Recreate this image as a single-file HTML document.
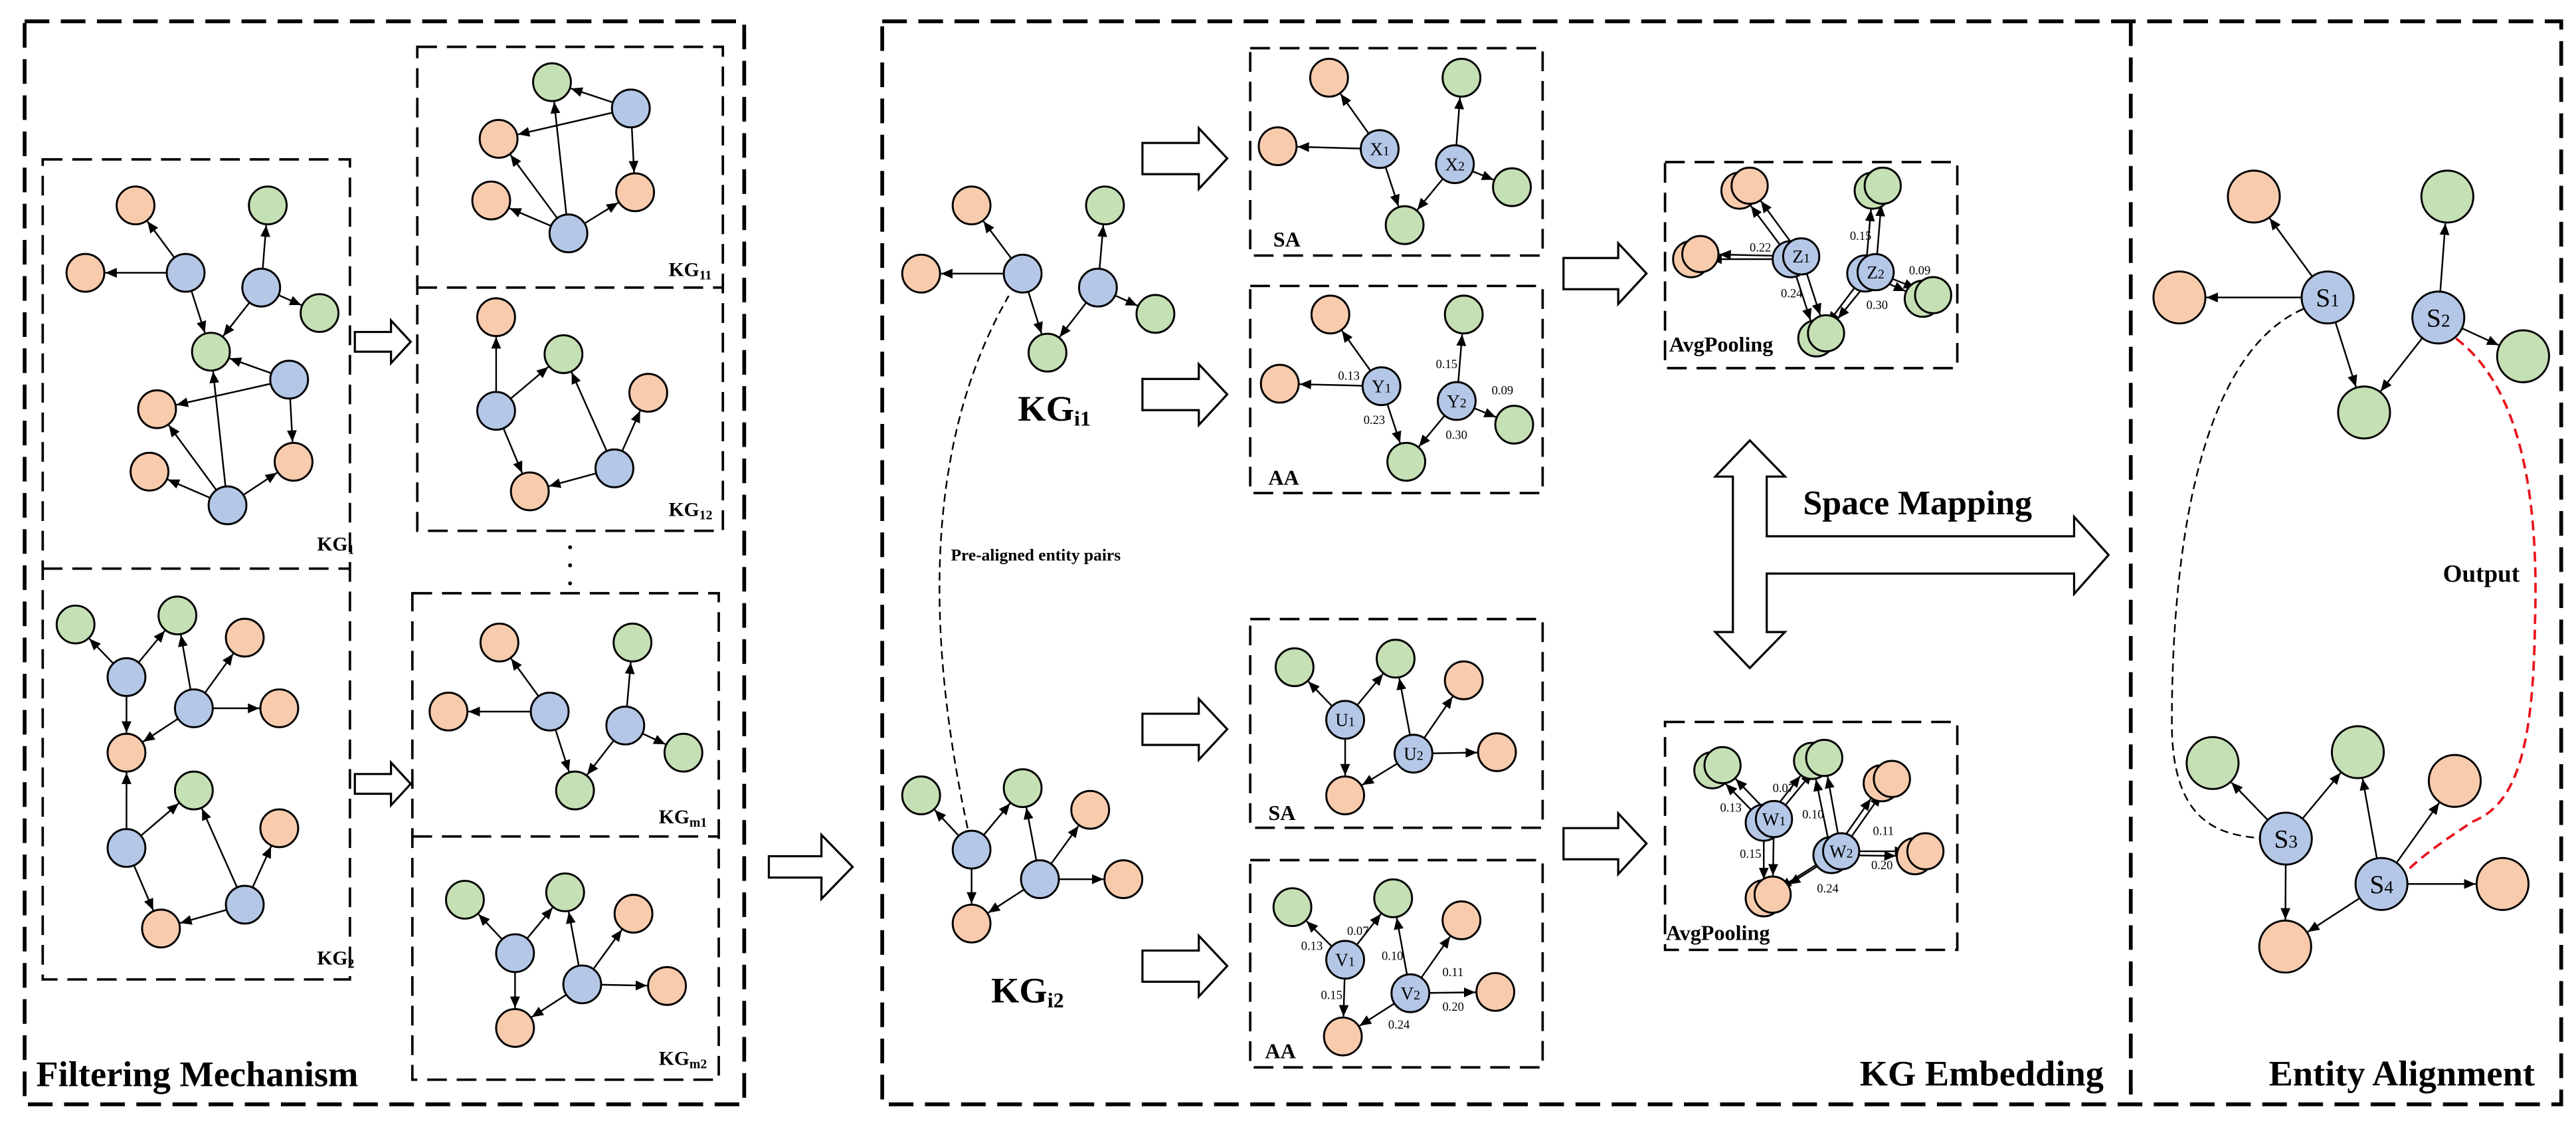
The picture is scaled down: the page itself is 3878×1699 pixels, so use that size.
<!DOCTYPE html>
<html><head><meta charset="utf-8">
<style>
html,body{margin:0;padding:0;background:#fff;}
svg{display:block;}
svg text{font-family:"Liberation Serif","Times New Roman",serif;}
.b{font-weight:bold;}
</style></head>
<body>
<svg id="s" width="3878" height="1699" viewBox="0 0 1568 687" preserveAspectRatio="none" xmlns="http://www.w3.org/2000/svg">
<defs>
<marker id="ah" markerUnits="userSpaceOnUse" markerWidth="7" markerHeight="6" refX="7" refY="3" orient="auto"><path d="M0,0 L7,3 L0,6 z" fill="#000"/></marker>
</defs>
<g fill="none" stroke="#000">
<g stroke-width="2.3" stroke-dasharray="15,7">
<rect x="15" y="13" width="438" height="659"/>
<path d="M537,13 H1559 V672 H537 Z"/>
<path d="M1297,13 V672"/>
</g>
<g stroke-width="1.5" stroke-dasharray="12,6">
<rect x="26" y="97" width="187" height="499"/>
<path d="M26,346 H213"/>
<rect x="254" y="28.5" width="186" height="294.5"/>
<path d="M254,175 H440"/>
<rect x="251" y="361" width="186.5" height="296"/>
<path d="M251,509 H437.5"/>
<rect x="761" y="29.3" width="178" height="126.2"/>
<rect x="761" y="174" width="178" height="126"/>
<rect x="761" y="376.7" width="178" height="127"/>
<rect x="761" y="523.4" width="178" height="126.1"/>
<rect x="1013.5" y="98.6" width="177.9" height="125.4"/>
<rect x="1013.5" y="439.3" width="177.9" height="138.7"/>
</g>
<path d="M589,504 Q545,300 614,180" stroke-width="1" stroke-dasharray="5,3"/>
<path d="M1402,188 C1340,215 1322,330 1322,440 C1322,500 1350,508 1376,510" stroke-width="1" stroke-dasharray="5,3"/>
<path d="M1495,206 C1540,240 1545,320 1543,380 C1542,460 1530,490 1505,500 C1490,510 1475,520 1464,531" stroke="#e8141c" stroke-width="1.5" stroke-dasharray="6,3.5"/>
<g stroke-width="1.3" fill="#fff">
<path d="M216,202 H238 V195 L250,208 L238,221 V214 H216 Z"/>
<path d="M216,471 H238 V464 L250,477 L238,490 V483 H216 Z"/>
<path d="M468,521 H500 V508 L519,527.5 L500,547 V534 H468 Z"/>
<path d="M695.4,87 H729.7 V78 L747,96.4 L729.7,115 V106 H695.4 Z"/>
<path d="M695.4,230.6 H729.7 V221.6 L747,240 L729.7,258.6 V249.6 H695.4 Z"/>
<path d="M695.4,434.3 H729.7 V425.3 L747,443.7 L729.7,462.3 V453.3 H695.4 Z"/>
<path d="M695.4,578.4 H729.7 V569.4 L747,587.8 L729.7,606.4 V597.4 H695.4 Z"/>
<path d="M951.7,157 H985 V148 L1002.2,166.4 L985,185 V176 H951.7 Z"/>
<path d="M951.7,503.9 H985 V494.9 L1002.2,513.3 L985,531.9 V522.9 H951.7 Z"/>
<path d="M1065.1,268 L1086.5,290 L1075.4,290 L1075.4,326.3 L1262.5,326.3 L1262.5,314.5 L1283.5,337.7 L1262.5,361.4 L1262.5,349 L1075.4,349 L1075.4,384.6 L1086.5,384.6 L1065.1,406.5 L1044.1,384.6 L1054.8,384.6 L1054.8,290 L1044.1,290 Z"/>
</g>
</g>
<g fill="#000"><circle cx="347" cy="333" r="1.2"/><circle cx="347" cy="344" r="1.2"/><circle cx="347" cy="355" r="1.2"/></g>
<g id="gr"></g>
<g id="tx" fill="#000" font-family="Liberation Serif, Times New Roman, serif">
<text class="b" x="22" y="661" font-size="22">Filtering Mechanism</text>
<text class="b" x="1132" y="660.5" font-size="22">KG Embedding</text>
<text class="b" x="1381" y="660.5" font-size="22">Entity Alignment</text>
<text class="b" x="1097.5" y="313" font-size="21">Space Mapping</text>
<text class="b" x="1487" y="354" font-size="15">Output</text>
<text class="b" x="578.8" y="341" font-size="10.3">Pre-aligned entity pairs</text>
<text class="b" x="619.6" y="256" font-size="22">KG<tspan font-size="13" dy="3">i1</tspan></text>
<text class="b" x="603.3" y="610" font-size="22">KG<tspan font-size="13" dy="3">i2</tspan></text>
<text class="b" x="193" y="335" font-size="12">KG<tspan font-size="8" dy="2">1</tspan></text>
<text class="b" x="193" y="587" font-size="12">KG<tspan font-size="8" dy="2">2</tspan></text>
<text class="b" x="407" y="168" font-size="12">KG<tspan font-size="8" dy="2">11</tspan></text>
<text class="b" x="407" y="314" font-size="12">KG<tspan font-size="8" dy="2">12</tspan></text>
<text class="b" x="401" y="501" font-size="12">KG<tspan font-size="8" dy="2">m1</tspan></text>
<text class="b" x="401" y="648" font-size="12">KG<tspan font-size="8" dy="2">m2</tspan></text>
<text class="b" x="775" y="150" font-size="13">SA</text>
<text class="b" x="772" y="295" font-size="13">AA</text>
<text class="b" x="772" y="499" font-size="13">SA</text>
<text class="b" x="770" y="644" font-size="13">AA</text>
<text class="b" x="1016" y="214" font-size="13">AvgPooling</text>
<text class="b" x="1014" y="572" font-size="13">AvgPooling</text>
<g font-size="7.5">
<text x="814.5" y="231">0.13</text><text x="830" y="258">0.23</text><text x="874" y="224">0.15</text><text x="908" y="240">0.09</text><text x="880" y="267">0.30</text>
<text x="792" y="578">0.13</text><text x="820" y="569">0.07</text><text x="841" y="584">0.10</text><text x="878" y="594">0.11</text><text x="804" y="608">0.15</text><text x="878" y="615">0.20</text><text x="845" y="626">0.24</text>
<text x="1065" y="153">0.22</text><text x="1084" y="181">0.24</text><text x="1126" y="146">0.15</text><text x="1162" y="167">0.09</text><text x="1136" y="188">0.30</text>
<text x="1079" y="482">0.07</text><text x="1047" y="494">0.13</text><text x="1097" y="498">0.10</text><text x="1140" y="508">0.11</text><text x="1059" y="522">0.15</text><text x="1139" y="529">0.20</text><text x="1106" y="543">0.24</text>
</g>
<g font-size="11" text-anchor="middle">
<text x="839.8" y="94.5">X<tspan font-size="8">1</tspan></text>
<text x="885.6" y="103.7">X<tspan font-size="8">2</tspan></text>
<text x="840.9" y="238.8">Y<tspan font-size="8">1</tspan></text>
<text x="886.7" y="247.8">Y<tspan font-size="8">2</tspan></text>
<text x="818.8" y="441.8">U<tspan font-size="8">1</tspan></text>
<text x="860.4" y="462.4">U<tspan font-size="8">2</tspan></text>
<text x="818.8" y="587.8">V<tspan font-size="8">1</tspan></text>
<text x="858.5" y="608.2">V<tspan font-size="8">2</tspan></text>
<text x="1096.4" y="159.8">Z<tspan font-size="8">1</tspan></text>
<text x="1141.7" y="169.4">Z<tspan font-size="8">2</tspan></text>
<text x="1079.8" y="502.2">W<tspan font-size="8">1</tspan></text>
<text x="1120.7" y="521.8">W<tspan font-size="8">2</tspan></text>
</g>
<g font-size="16" text-anchor="middle">
<text x="1416.8" y="186.5">S<tspan font-size="11">1</tspan></text>
<text x="1484.2" y="198.7">S<tspan font-size="11">2</tspan></text>
<text x="1391.4" y="515.8">S<tspan font-size="11">3</tspan></text>
<text x="1449.6" y="543.4">S<tspan font-size="11">4</tspan></text>
</g>
</g>
<script>
(function(){
var NS="http://www.w3.org/2000/svg";
var g=document.getElementById('gr');
var C={o:'#f8cbad',g:'#c5e0b4',b:'#b4c7e7'};
function el(n,a){var e=document.createElementNS(NS,n);for(var k in a)e.setAttribute(k,a[k]);g.appendChild(e);return e;}
function graph(N,E,r){
 E.forEach(function(p){var a=N[p[0]],b=N[p[1]];var dx=b[0]-a[0],dy=b[1]-a[1],L=Math.sqrt(dx*dx+dy*dy),ux=dx/L,uy=dy/L;
  el('line',{x1:a[0]+ux*r,y1:a[1]+uy*r,x2:b[0]-ux*(r+0.6),y2:b[1]-uy*(r+0.6),stroke:'#000','stroke-width':1,'marker-end':'url(#ah)'});});
 N.forEach(function(n){el('circle',{cx:n[0],cy:n[1],r:r,fill:C[n[2]],stroke:'#000','stroke-width':1.2});});
}
var r=11.5;
graph([[82.5,125,'o'],[52,166,'o'],[113,166,'b'],[163,125,'g'],[159,175,'b'],[194.5,190.5,'g'],[128.4,214,'g'],[176,231,'b'],[95.6,249,'o'],[91,287,'o'],[178.7,281,'o'],[138.5,307.5,'b']],
 [[2,0],[2,1],[2,6],[4,3],[4,5],[4,6],[7,6],[7,8],[7,10],[11,6],[11,8],[11,9],[11,10]],r);
graph([[46,380,'g'],[108,374.5,'g'],[149,388,'o'],[77,412,'b'],[118,431,'b'],[170,431,'o'],[77,458,'o'],[118,481,'g'],[170,504,'o'],[77,516,'b'],[149,550.5,'b'],[98,565,'o']],
 [[3,0],[3,1],[3,6],[4,1],[4,2],[4,5],[4,6],[9,6],[9,7],[9,11],[10,7],[10,8],[10,11]],r);
graph([[336,50,'g'],[384,66,'b'],[303.5,84.5,'o'],[299,122,'o'],[386.6,117,'o'],[346,142,'b']],
 [[1,0],[1,2],[1,4],[5,0],[5,2],[5,3],[5,4]],r);
graph([[302,193,'o'],[343,215.5,'g'],[394.6,239,'o'],[302,250,'b'],[374,285,'b'],[322.5,299,'o']],
 [[3,0],[3,1],[3,5],[4,1],[4,2],[4,5]],r);
graph([[304,391,'o'],[385,391,'g'],[273,433,'o'],[334.6,433,'b'],[380.6,441.5,'b'],[416,458,'g'],[350,481,'g']],
 [[3,0],[3,2],[3,6],[4,1],[4,5],[4,6]],r);
graph([[283,547.5,'g'],[344,543,'g'],[385.6,556,'o'],[313.5,580,'b'],[354.4,599,'b'],[406,600,'o'],[313.5,625.5,'o']],
 [[3,0],[3,1],[3,6],[4,1],[4,2],[4,5],[4,6]],r);
graph([[591.4,125,'o'],[560.7,166.5,'o'],[622.5,166.5,'b'],[672.6,125,'g'],[668.3,175,'b'],[703.3,191,'g'],[637.6,214.6,'g']],
 [[2,0],[2,1],[2,6],[4,3],[4,5],[4,6]],r);
graph([[560.7,484,'g'],[622.5,479.6,'g'],[663.6,492.8,'o'],[591.4,517,'b'],[633,535,'b'],[683.8,535,'o'],[591.4,562,'o']],
 [[3,0],[3,1],[3,6],[4,1],[4,2],[4,5],[4,6]],r);
graph([[809,47.3,'o'],[777.7,89,'o'],[839.8,90.7,'b'],[889.6,47.3,'g'],[885.6,99.9,'b'],[920.3,113.9,'g'],[855,137,'g']],
 [[2,0],[2,1],[2,6],[4,3],[4,5],[4,6]],r);
graph([[809.8,191.4,'o'],[779,233.5,'o'],[840.9,235,'b'],[891,191.4,'g'],[886.7,244,'b'],[921.7,258.4,'g'],[856,281,'g']],
 [[2,0],[2,1],[2,6],[4,3],[4,5],[4,6]],r);
graph([[788,406,'g'],[849.5,400.8,'g'],[891,414,'o'],[818.8,438,'b'],[860.4,458.6,'b'],[911.2,457.7,'o'],[818.8,484,'o']],
 [[3,0],[3,1],[3,6],[4,1],[4,2],[4,5],[4,6]],r);
graph([[786.7,552,'g'],[848,546.6,'g'],[889.6,560,'o'],[818.8,584,'b'],[858.5,604.4,'b'],[910.2,603.6,'o'],[817.4,630.7,'o']],
 [[3,0],[3,1],[3,6],[4,1],[4,2],[4,5],[4,6]],r);
graph([[1058.8,116,'o'],[1065,113,'o'],[1029.4,157.7,'o'],[1035,154.6,'o'],[1090,157.7,'b'],[1096.4,156,'b'],[1139.9,116,'g'],[1146,113,'g'],[1135.4,166.4,'b'],[1141.7,165.6,'b'],[1170.4,181.8,'g'],[1176.7,179.6,'g'],[1105.6,205.9,'g'],[1111.5,202.8,'g']],
 [[4,0],[5,1],[4,2],[5,3],[4,12],[5,13],[8,6],[9,7],[8,10],[9,11],[8,12],[9,13]],11);
graph([[1042.3,468.7,'g'],[1048.5,465.6,'g'],[1103,463,'g'],[1110.4,461.2,'g'],[1145.4,476.6,'o'],[1151.6,474,'o'],[1073.6,500.6,'b'],[1079.8,498.4,'b'],[1114.8,520.3,'b'],[1120.7,518,'b'],[1165.6,521,'o'],[1172,518,'o'],[1073.6,546.6,'o'],[1079,544.4,'o']],
 [[6,0],[7,1],[6,2],[7,3],[6,12],[7,13],[8,2],[9,3],[8,4],[9,5],[8,10],[9,11],[8,12],[9,13]],11);
graph([[1371.9,119.6,'o'],[1326.6,181,'o'],[1416.8,181,'b'],[1489.7,119.6,'g'],[1484.2,193.2,'b'],[1535.8,216.8,'g'],[1439,251,'g']],
 [[2,0],[2,1],[2,6],[4,3],[4,5],[4,6]],15.8);
graph([[1346.8,464.3,'g'],[1435.2,457.7,'g'],[1494.2,475.2,'o'],[1391.4,510.3,'b'],[1449.6,537.9,'b'],[1523.3,537.9,'o'],[1391,576,'o']],
 [[3,0],[3,1],[3,6],[4,1],[4,2],[4,5],[4,6]],15.8);
})();
</script>
</svg>
</body></html>
